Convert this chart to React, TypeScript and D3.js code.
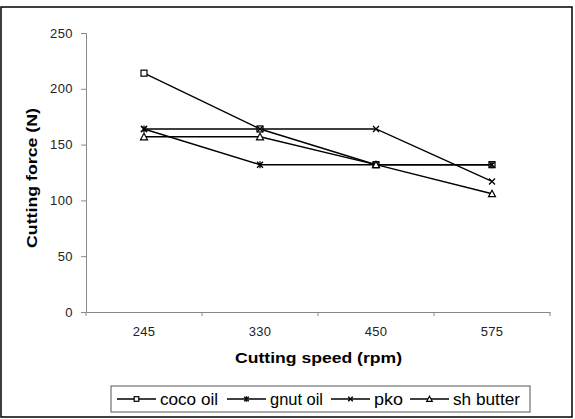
import React, { useEffect, useRef } from 'react';
import * as d3 from 'd3';

const speeds = ['245', '330', '450', '575'];
const seriesNames = ['coco oil', 'gnut oil', 'pko', 'sh butter'];
const cocoOil = [214, 164, 132, 132];
const gnutOil = [164, 132, 132, 132];
const pko = [164, 164, 164, 117];
const shButter = [157, 157, 132, 106];
const yTicks = [0, 50, 100, 150, 200, 250];

const markerKinds = ['square', 'asterisk', 'cross', 'triangle'];

const App: React.FC = () => {
  const svgRef = useRef<SVGSVGElement>(null);

  useEffect(() => {
    if (!svgRef.current) return;
    const width = 575;
    const height = 419;
    const font = '"Liberation Sans", Arial, sans-serif';

    d3.select(svgRef.current).selectAll('*').remove();
    const svg = d3.select(svgRef.current)
      .attr('width', width)
      .attr('height', height);

    // Outer frame
    svg.append('rect')
      .attr('x', 1).attr('y', 7)
      .attr('width', 571).attr('height', 410)
      .attr('fill', '#fff')
      .attr('stroke', '#000')
      .attr('stroke-width', 1.5);

    const x = d3.scaleBand<string>().domain(speeds).range([86, 550]);
    const y = d3.scaleLinear().domain([0, 250]).range([312, 33]);

    // Y axis
    const yAxis = svg.append('g')
      .attr('transform', 'translate(86,0)')
      .call(d3.axisLeft(y).tickValues(yTicks).tickSize(5).tickPadding(8));
    yAxis.select('.domain').attr('stroke', '#888');
    yAxis.selectAll('line').attr('stroke', '#888');
    yAxis.selectAll('text')
      .style('font-family', font).style('font-size', '13px')
      .style('letter-spacing', '0.4px').attr('fill', '#222');

    // X axis
    const xAxis = svg.append('g')
      .attr('transform', 'translate(0,312)')
      .call(d3.axisBottom(x).tickSize(0).tickPadding(15));
    xAxis.select('.domain').attr('stroke', '#888');
    xAxis.selectAll('text')
      .style('font-family', font).style('font-size', '13px')
      .style('letter-spacing', '0.2px').attr('fill', '#222');
    const bounds = [...speeds.map((s) => x(s) as number), 550];
    xAxis.selectAll('line.sep')
      .data(bounds)
      .enter().append('line')
      .attr('class', 'sep')
      .attr('x1', (d) => d).attr('x2', (d) => d)
      .attr('y1', 0).attr('y2', 4)
      .attr('stroke', '#888');

    // Axis titles
    svg.append('text')
      .attr('x', 235).attr('y', 363)
      .attr('textLength', 167)
      .attr('lengthAdjust', 'spacingAndGlyphs')
      .style('font-family', font).style('font-size', '15px').style('font-weight', 'bold')
      .text('Cutting speed (rpm)');
    svg.append('text')
      .attr('transform', 'translate(37,248) rotate(-90)')
      .attr('textLength', 140)
      .attr('lengthAdjust', 'spacingAndGlyphs')
      .style('font-family', font).style('font-size', '15px').style('font-weight', 'bold')
      .text('Cutting force (N)');

    const cx = (s: string) => (x(s) as number) + x.bandwidth() / 2;
    const allSeries = [cocoOil, gnutOil, pko, shButter];

    const drawMarker = (g: any, kind: string, px: number, py: number, r = 3) => {
      if (kind === 'square') {
        g.append('rect').attr('x', px - r).attr('y', py - r)
          .attr('width', 2 * r).attr('height', 2 * r)
          .attr('fill', '#fff').attr('stroke', '#000').attr('stroke-width', 1.2);
      } else if (kind === 'triangle') {
        g.append('path')
          .attr('d', `M${px},${py - r - 0.5} L${px + r + 0.5},${py + r} L${px - r - 0.5},${py + r} Z`)
          .attr('fill', '#fff').attr('stroke', '#000').attr('stroke-width', 1.2);
      } else {
        const p = `M${px - r},${py - r} L${px + r},${py + r} M${px - r},${py + r} L${px + r},${py - r}`;
        const extra = kind === 'asterisk' ? ` M${px},${py - r - 0.5} L${px},${py + r + 0.5}` : '';
        g.append('path').attr('d', p + extra)
          .attr('fill', 'none').attr('stroke', '#000').attr('stroke-width', 1.3);
      }
    };

    const line = d3.line<number>()
      .x((_, i) => cx(speeds[i]))
      .y((d) => y(d));

    allSeries.forEach((vals, si) => {
      const g = svg.append('g');
      g.append('path')
        .datum(vals)
        .attr('d', line)
        .attr('fill', 'none')
        .attr('stroke', '#000')
        .attr('stroke-width', 1.4);
      vals.forEach((v, i) => drawMarker(g, markerKinds[si], cx(speeds[i]), y(v)));
    });

    // Legend
    const legend = svg.append('g');
    legend.append('rect')
      .attr('x', 111).attr('y', 386)
      .attr('width', 419).attr('height', 26)
      .attr('fill', '#fff').attr('stroke', '#555').attr('stroke-width', 1);
    const starts = [117, 227, 331, 410];
    const textWidths = [58, 53, 29, 67];
    seriesNames.forEach((name, i) => {
      const lx = starts[i];
      legend.append('line')
        .attr('x1', lx).attr('x2', lx + 39)
        .attr('y1', 399).attr('y2', 399)
        .attr('stroke', '#000').attr('stroke-width', 1.4);
      drawMarker(legend, markerKinds[i], lx + 19.5, 399, 2.3);
      legend.append('text')
        .attr('x', lx + 43).attr('y', 404.5)
        .attr('textLength', textWidths[i])
        .attr('lengthAdjust', 'spacingAndGlyphs')
        .style('font-family', font).style('font-size', '16px')
        .text(name);
    });
  }, []);

  return (
    <div style={{ position: 'absolute', left: 0, top: 0 }}>
      <svg ref={svgRef}></svg>
    </div>
  );
};

export default App;
